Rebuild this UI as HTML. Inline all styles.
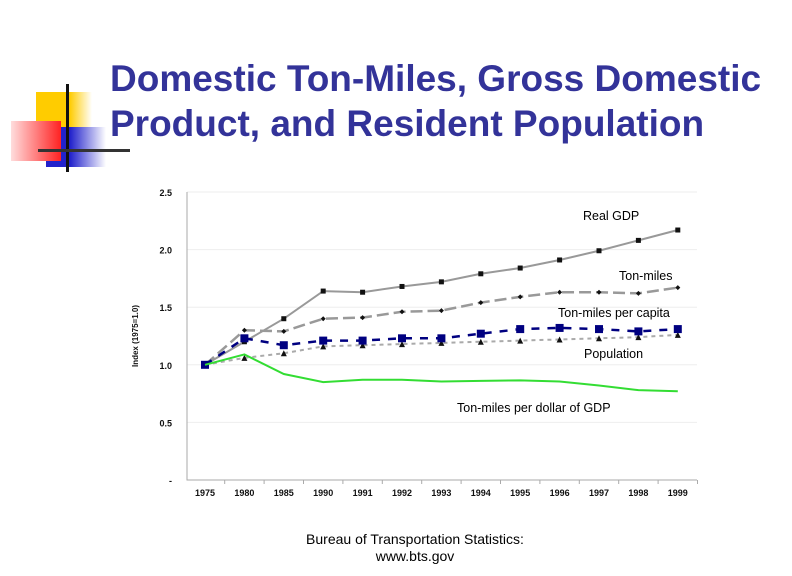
<!DOCTYPE html>
<html><head><meta charset="utf-8"><style>
body{margin:0;background:#fff;width:792px;height:576px;overflow:hidden;position:relative;font-family:"Liberation Sans",sans-serif}
.t{position:absolute;left:110px;top:56px;font-weight:bold;font-size:37px;line-height:45px;color:#333399;white-space:nowrap}
.src{position:absolute;left:260px;top:531px;width:310px;text-align:center;font-size:14px;line-height:17px;color:#000}
</style></head><body>
<div>
<div style="position:absolute;left:36px;top:92px;width:56px;height:50px;background:linear-gradient(90deg,#ffcc00 60%,#fff)"></div>
<div style="position:absolute;left:46px;top:127px;width:60px;height:40px;background:linear-gradient(90deg,#2222cc 40%,#fff)"></div>
<div style="position:absolute;left:11px;top:121px;width:50px;height:40px;background:linear-gradient(90deg,#ffdddd,#ff2222)"></div>
<div style="position:absolute;left:66px;top:84px;width:3px;height:88px;background:#111"></div>
<div style="position:absolute;left:38px;top:149px;width:92px;height:3px;background:#333"></div>
</div>
<div class="t">Domestic Ton-Miles, Gross Domestic<br>Product, and Resident Population</div>
<svg id="c" width="792" height="576" style="position:absolute;left:0;top:0"></svg>
<div class="src">Bureau of Transportation Statistics:<br>www.bts.gov</div>
<script>
const years=["1975","1980","1985","1990","1991","1992","1993","1994","1995","1996","1997","1998","1999"];
const yTicks=[0,0.5,1.0,1.5,2.0,2.5];
const yTickLabels=["-","0.5","1.0","1.5","2.0","2.5"];
const gdp=[1.0,1.2,1.4,1.64,1.63,1.68,1.72,1.79,1.84,1.91,1.99,2.08,2.17];
const tonMiles=[1.0,1.30,1.29,1.40,1.41,1.46,1.47,1.54,1.59,1.63,1.63,1.62,1.67];
const perCapita=[1.0,1.23,1.17,1.21,1.21,1.23,1.23,1.27,1.31,1.32,1.31,1.29,1.31];
const population=[1.0,1.06,1.10,1.16,1.17,1.18,1.19,1.20,1.21,1.22,1.23,1.24,1.26];
const perGdp=[1.0,1.09,0.92,0.85,0.87,0.87,0.855,0.86,0.865,0.855,0.82,0.78,0.77];
const svg=document.getElementById('c');const NS='http://www.w3.org/2000/svg';
function X(i){return 205+i*39.4;}
function Y(v){return 480-v*115.2;}
function mk(t,a,p){const e=document.createElementNS(NS,t);for(const k in a)e.setAttribute(k,a[k]);(p||svg).appendChild(e);return e;}
yTicks.forEach((v,i)=>{
 if(v>0){const g=mk('line',{x1:187,x2:697,y1:Y(v),y2:Y(v),stroke:'#eee'});}
 const t=mk('text',{x:172,y:Y(v)+4,'text-anchor':'end','font-size':9,'font-weight':'bold',fill:'#111'});t.textContent=yTickLabels[i];
 
});
const ax=mk('path',{d:`M187 ${Y(2.5)}V480H697`,stroke:'#aaa',fill:'none'});

years.forEach((y,i)=>{
 mk('line',{x1:X(i)+19.7,x2:X(i)+19.7,y1:480,y2:484,stroke:'#aaa'});
 const t=mk('text',{x:X(i),y:496,'text-anchor':'middle','font-size':9,'font-weight':'bold',fill:'#111'});t.textContent=y;
 
});
const yt=mk('text',{transform:'translate(138,336) rotate(-90)','text-anchor':'middle','font-size':8,'font-weight':'bold',fill:'#111'});yt.textContent='Index (1975=1.0)';

const series=[
 {d:gdp,c:'#999',w:2,dash:'',m:'sq',ms:2.5,mc:'#111',n:'series-real-gdp'},
 {d:tonMiles,c:'#999',w:2.5,dash:'12 5',m:'dia',ms:2.5,mc:'#111',n:'series-ton-miles'},
 {d:population,c:'#aaa',w:2,dash:'4 4',m:'tri',ms:3,mc:'#111',n:'series-population'},
 {d:perCapita,c:'#000080',w:2.5,dash:'8 8',m:'sq',ms:4,mc:'#000080',n:'series-ton-miles-per-capita'},
 {d:perGdp,c:'#33dd33',w:2,dash:'',m:'',ms:0,mc:'#33dd33',n:'series-ton-miles-per-dollar-gdp'}];
series.forEach(s=>{
 const p=mk('polyline',{points:s.d.map((v,i)=>X(i)+','+Y(v)).join(' '),fill:'none',stroke:s.c,'stroke-width':s.w,'stroke-dasharray':s.dash});
 
 s.d.forEach((v,i)=>{const x=X(i),y=Y(v),r=s.ms;let e;
  if(s.m==='sq')e=mk('rect',{x:x-r,y:y-r,width:2*r,height:2*r,fill:s.mc});
  else if(s.m==='dia')e=mk('polygon',{points:`${x},${y-r} ${x+r},${y} ${x},${y+r} ${x-r},${y}`,fill:s.mc});
  else if(s.m==='tri')e=mk('polygon',{points:`${x},${y-r} ${x+r},${y+r} ${x-r},${y+r}`,fill:s.mc});
  if(e){}
 });
});
const labels=[["Real GDP",583,220],["Ton-miles",619,280],["Ton-miles per capita",558,317],["Population",584,358],["Ton-miles per dollar of GDP",457,412]];
labels.forEach(l=>{const t=mk('text',{x:l[1],y:l[2],'font-size':12.5,fill:'#000'});t.textContent=l[0];
 });
</script>
</body></html>
